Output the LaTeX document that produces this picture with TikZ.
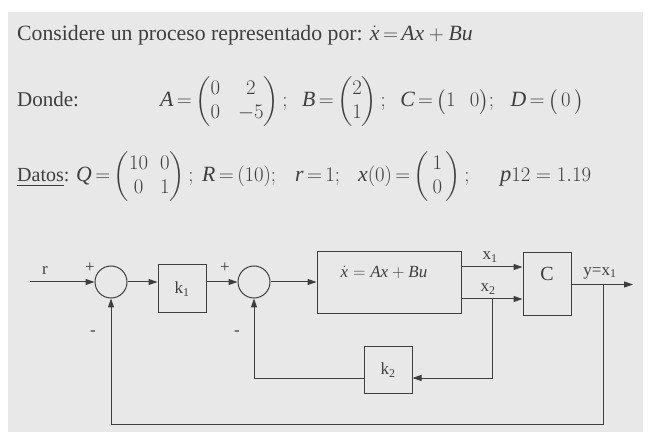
\documentclass[tikz,border=0pt]{standalone}
\usepackage{amsmath}
\usepackage{fontspec}
\setmainfont{Liberation Serif}
\usetikzlibrary{arrows.meta, positioning}
\definecolor{paper}{RGB}{232,232,232}
\definecolor{ink}{RGB}{62,62,62}
\newcommand{\mv}[1]{\mathit{#1}}
\newcommand{\tighteq}{\thickmuskip=3mu plus 2mu}
\tikzset{
  blk/.style={rectangle, draw=ink, line width=1pt, inner sep=0pt},
  sumn/.style={circle, draw=ink, line width=1pt, minimum size=32pt, inner sep=0pt},
  e/.style={line width=1pt, ink},
  arr/.style={e, -{Triangle[length=9pt,width=6pt]}},
  lbl/.style={font=\fontsize{17}{17}\selectfont, text=ink, inner sep=0pt},
  txt/.style={font=\fontsize{21.75}{24}\selectfont\tighteq, text=ink, inner sep=0pt, anchor=base west},
}

\begin{document}
\begin{tikzpicture}[x=1pt, y=-1pt]
  \useasboundingbox (0,0) rectangle (653,443);
  \fill[paper] (8,12) rectangle (643,432);
  % statement
  \node[txt] (l1) at (17,41) {Considere un proceso representado por: $\dot{\mv{x}} = \mv{Ax} + \mv{Bu}$};
  \node[txt, font=\fontsize{21}{24}\selectfont] (dn) at (17,107) {Donde:};
  \node[txt] (ma) at (160,107) {$\mv{A} = \setlength{\arraycolsep}{9pt}\begin{pmatrix}0 & 2\\ 0 & -5\end{pmatrix};$};
  \node[txt] (mb) at ([xshift=14pt]ma.base east) {$\mv{B} = \begin{pmatrix}2\\ 1\end{pmatrix};$};
  \node[txt] (mc) at ([xshift=14pt]mb.base east) {$\mv{C} = \bigl(1\enspace\, 0\bigr);$};
  \node[txt] (md) at ([xshift=16pt]mc.base east) {$\mv{D} = \bigl(\,0\,\bigr)$};
  \node[txt, font=\fontsize{20}{24}\selectfont] (dt) at (17,182) {\underline{Datos}:};
  \node[txt] (mq) at (76,182) {$\mv{Q} = \setlength{\arraycolsep}{6pt}\begin{pmatrix}10 & 0\\ 0 & 1\end{pmatrix};$};
  \node[txt] (mr) at (202,182) {$\mv{R} = (10);$};
  \node[txt] (vr) at (295,182) {$\mv{r} = 1;$};
  \node[txt] (mx) at (358,182) {$\mv{x}(0) = \begin{pmatrix}\,1\,\\ \,0\,\end{pmatrix};$};
  \node[txt, font=\fontsize{22.5}{24}\selectfont] (vp) at (500,182) {$\mv{p}12 = 1.19$};
  % blocks
  \node[sumn] (s1) at (111,282) {};
  \node[blk, minimum width=48pt, minimum height=48pt, lbl] (k1) at (182,289) {k\textsubscript{1}};
  \node[sumn] (s2) at (254,282) {};
  \node[blk, minimum width=144pt, minimum height=62pt, lbl, text depth=22pt] (pl) at (389,283) {$\dot{\mv{x}} = \mv{Ax} + \mv{Bu}$\hspace*{10pt}};
  \node[blk, minimum width=48pt, minimum height=63pt, lbl, font=\fontsize{20}{20}\selectfont, text depth=22pt] (cb) at (547,284.5) {C};
  \node[blk, minimum width=48pt, minimum height=47pt, lbl] (k2) at (388,370) {k\textsubscript{2}};
  \coordinate (rin) at (30,282);
  \coordinate (yout) at (633,284.5);
  \coordinate (br1) at (603,284.5);
  \coordinate (br2) at (492,299);
  % signals
  \draw[arr] (rin) -- (s1);
  \draw[arr] (s1) -- (s1 -| k1.west);
  \draw[arr] (k1.east |- s2) -- (s2);
  \draw[arr] (s2) -- (s2 -| pl.west);
  \draw[arr] ([yshift=16pt]pl.east) -- ([yshift=16pt]pl.east -| cb.west);
  \draw[arr] ([yshift=-16pt]pl.east) -- ([yshift=-16pt]pl.east -| cb.west);
  \draw[arr] (cb.east) -- (yout);
  \draw[arr] (br1) -- ++(0,139.5) -| (s1.south);
  \draw[arr] (br2) |- ([yshift=-8pt]k2.east);
  \draw[arr] ([yshift=-8pt]k2.west) -| (s2.south);
  % labels
  \node[lbl] (rl) at (45,270) {r};
  \node[lbl] (p1) at (90,268) {+};
  \node[lbl] (p2) at (225,268) {+};
  \node[lbl] (m1) at (93,333) {-};
  \node[lbl] (m2) at (237,333) {-};
  \node[lbl] (x1l) at (490,257) {x\textsubscript{1}};
  \node[lbl] (x2l) at (488,289) {x\textsubscript{2}};
  \node[lbl] (yl) at (600,273) {y=x\textsubscript{1}};
\end{tikzpicture}
\end{document}
